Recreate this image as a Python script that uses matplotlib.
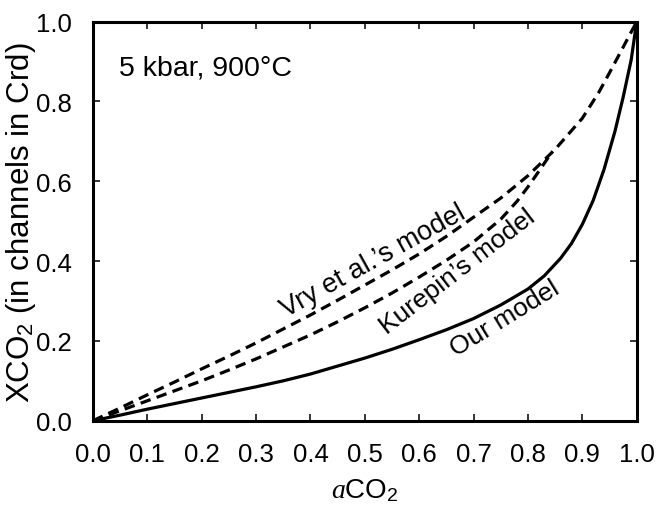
import matplotlib
matplotlib.use('Agg')
import matplotlib.pyplot as plt

plt.rcParams['font.family'] = ['Liberation Sans', 'DejaVu Sans']
plt.rcParams['mathtext.fontset'] = 'custom'
plt.rcParams['mathtext.rm'] = 'Liberation Sans'
plt.rcParams['mathtext.it'] = 'Liberation Serif:italic'
plt.rcParams['mathtext.bf'] = 'Liberation Sans:bold'

# Our model: aCO2 vs XCO2
our_x = [0.0, 0.05, 0.1, 0.15, 0.2, 0.25, 0.3, 0.35, 0.4, 0.45, 0.5, 0.55,
         0.6, 0.65, 0.7, 0.75, 0.8, 0.83, 0.86, 0.88, 0.9, 0.92, 0.94,
         0.96, 0.975, 0.99, 1.0]
our_y = [0.0, 0.014, 0.029, 0.043, 0.057, 0.071, 0.085, 0.1, 0.117, 0.137,
         0.157, 0.179, 0.203, 0.228, 0.256, 0.29, 0.33, 0.363, 0.407, 0.444,
         0.492, 0.552, 0.63, 0.725, 0.81, 0.905, 1.0]

# Vry et al.'s model
vry_x = [0.0, 0.05, 0.1, 0.15, 0.2, 0.25, 0.3, 0.35, 0.4, 0.45, 0.5, 0.55,
         0.6, 0.65, 0.7, 0.75, 0.8, 0.85, 0.9, 0.93, 0.95, 0.97, 1.0]
vry_y = [0.0, 0.032, 0.065, 0.097, 0.13, 0.162, 0.195, 0.23, 0.265, 0.302,
         0.34, 0.378, 0.418, 0.462, 0.51, 0.558, 0.614, 0.68, 0.758, 0.822,
         0.872, 0.923, 1.0]

# Kurepin's model (joins Vry's curve near aCO2 = 0.84)
kur_x = [0.0, 0.05, 0.1, 0.15, 0.2, 0.25, 0.3, 0.35, 0.4, 0.45, 0.5, 0.55,
         0.6, 0.65, 0.7, 0.75, 0.78, 0.8, 0.82, 0.845]
kur_y = [0.0, 0.025, 0.05, 0.075, 0.1, 0.127, 0.155, 0.185, 0.215, 0.248,
         0.283, 0.32, 0.36, 0.402, 0.448, 0.505, 0.55, 0.586, 0.625, 0.675]

x_ticks = [i / 10 for i in range(11)]
y_ticks = [i / 5 for i in range(6)]

fig = plt.figure(figsize=(6.61, 5.10), dpi=100)
ax = fig.add_axes([0.1407, 0.1731, 0.8225, 0.7824])

ax.plot(our_x, our_y, color='black', lw=2.3, solid_joinstyle='round')
ax.plot(kur_x, kur_y, color='black', lw=2.3, dashes=(3.3, 2.0))
ax.plot(vry_x, vry_y, color='black', lw=2.3, dashes=(3.3, 2.0))

ax.set_xlim(0, 1)
ax.set_ylim(0, 1)
ax.set_xticks(x_ticks)
ax.set_yticks(y_ticks)
ax.set_xticklabels([f'{v:.1f}' for v in x_ticks])
ax.set_yticklabels([f'{v:.1f}' for v in y_ticks])
ax.tick_params(direction='in', length=5, width=1.1, labelsize=18.5,
               top=True, right=True, pad=15)
for sp in ax.spines.values():
    sp.set_linewidth(2.2)

ax.set_xlabel(r'$\mathit{a}\mathrm{CO}_2$', fontsize=20, labelpad=8)
ax.set_ylabel(r'XCO$_2$ (in channels in Crd)', fontsize=22.5, labelpad=-1)

ax.text(0.048, 0.868, '5 kbar, 900°C', fontsize=20.5, ha='left', va='baseline')
ax.text(0.522, 0.387, "Vry et al.’s model", fontsize=19.5, rotation=29,
        rotation_mode='anchor', ha='center', va='baseline')
ax.text(0.678, 0.36, "Kurepin’s model", fontsize=19, rotation=37.5,
        rotation_mode='anchor', ha='center', va='baseline')
ax.text(0.765, 0.242, "Our model", fontsize=19, rotation=31.5,
        rotation_mode='anchor', ha='center', va='baseline')

fig.savefig('out.png', dpi=100, facecolor='white')
